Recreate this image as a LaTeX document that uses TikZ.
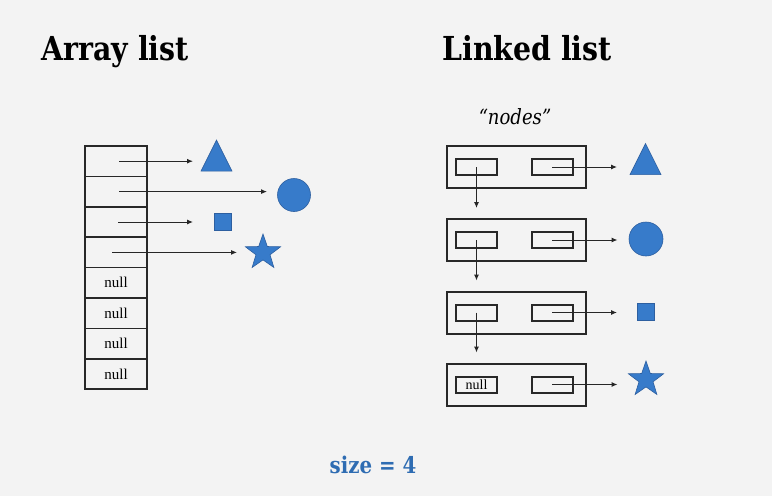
\documentclass[tikz,border=0pt]{standalone}
\usepackage{fontspec}
\setmainfont{DejaVu Serif}[FakeStretch=0.86]
\newfontfamily\cellfont{Liberation Serif}
\usetikzlibrary{shapes.geometric, arrows.meta, positioning, calc}
\definecolor{bggray}{RGB}{243,243,243}
\definecolor{shapeblue}{RGB}{55,123,202}
\definecolor{shapeedge}{RGB}{45,95,160}
\definecolor{sizeblue}{RGB}{46,108,178}
\definecolor{boxline}{RGB}{40,40,40}

\begin{document}
\begin{tikzpicture}[x=1pt, y=-1pt,
  cell/.style={draw=boxline, line width=1.6pt, minimum width=62pt, minimum height=30.4pt, inner sep=0pt, font=\cellfont\fontsize{15}{15}\selectfont},
  listnode/.style={draw=boxline, line width=2pt, minimum width=139pt, minimum height=42pt, inner sep=0pt},
  field/.style={draw=boxline, line width=2pt, minimum width=41pt, minimum height=16pt, inner sep=0pt, font=\cellfont\fontsize{14}{14}\selectfont},
  ptr/.style={-{Latex[length=6pt,width=5pt]}, line width=1pt, draw=black!85},
  blueshape/.style={fill=shapeblue, draw=shapeedge, line width=0.6pt, inner sep=0pt},
  tri/.style={blueshape, isosceles triangle, shape border rotate=90, isosceles triangle stretches, minimum width=31pt, minimum height=31pt},
  dot/.style={blueshape, circle, minimum size=33pt},
  sq/.style={blueshape, rectangle, minimum size=17pt},
  starshape/.style={blueshape, star, star points=5, star point ratio=2.5, minimum size=37pt},
  title/.style={anchor=base, font=\bfseries\fontsize{33}{33}\selectfont}
]
  \fill[bggray] (0,0) rectangle (772,496);
  \useasboundingbox (0,0) rectangle (772,496);

  % titles
  \node[title] (arraytitle) at (115,60) {Array list};
  \node[title] (linkedtitle) at (527,60) {Linked list};

  % array list cells
  \foreach \i/\t in {1/,2/,3/,4/,5/null,6/null,7/null,8/null}
    \node[cell] (a\i) at (116,{146+30.4*(\i-0.5)}) {\t};

  \node[tri] (t1) at (216.5,161.5) {};
  \node[dot] (c1) at (294,195) {};
  \node[sq] (q1) at (223,222) {};
  \node[starshape] (s1) at (263,252.5) {};

  \draw[ptr, shorten <=3pt, shorten >=23.5pt] (a1.center) -- (a1.center -| t1.center);
  \draw[ptr, shorten <=3pt, shorten >=27pt] (a2.center) -- (a2.center -| c1.center);
  \draw[ptr, shorten <=2pt, shorten >=30pt] (a3.center) -- (a3.center -| q1.center);
  \draw[ptr, shorten <=-4pt, shorten >=26pt] (a4.center) -- (a4.center -| s1.center);

  % linked list
  \node[font=\itshape\fontsize{21}{21}\selectfont] (nodeslabel) at (515,117) {``nodes''};

  \foreach \i/\y in {1/167,2/240,3/312.5,4/384.5} {
    \node[listnode] (n\i) at (516.5,\y) {};
    \node[field, right=9pt of n\i.west] (l\i) {};
    \node[field, left=13.5pt of n\i.east] (r\i) {};
  }
  \node[field, right=9pt of n4.west] (l4) {null};

  \node[tri] (t2) at (645.5,165) {};
  \node[dot, minimum size=34pt] (c2) at (646,239) {};
  \node[sq] (q2) at (645.5,311.5) {};
  \node[starshape] (s2) at (646,379.5) {};

  \foreach \i/\shp in {1/t2,2/c2,3/q2,4/s2}
    \draw[ptr, shorten >=28.5pt] (r\i.center) -- (r\i.center -| \shp.center);

  \foreach \i/\j in {1/2,2/3,3/4}
    \draw[ptr, shorten >=10pt] (l\i.center) -- (l\i.center |- n\j.north);

  % size
  \node[text=sizeblue, font=\bfseries\fontsize{23}{23}\selectfont] (sizelabel) at (373,465) {size = 4};
\end{tikzpicture}
\end{document}
